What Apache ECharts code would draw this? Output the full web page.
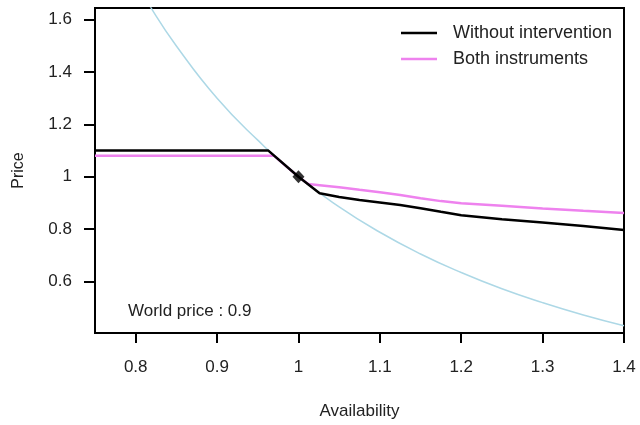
<!DOCTYPE html>
<html>
<head>
<meta charset="utf-8">
<script src="https://cdn.jsdelivr.net/npm/echarts@6/dist/echarts.min.js"></script>
<style>html,body{margin:0;padding:0;background:#fff}#c{width:640px;height:425px}</style>
</head>
<body>
<div id="c"></div>
<script>
// Data
var xTicks = [0.8, 0.9, 1.0, 1.1, 1.2, 1.3, 1.4];
var yTicks = [0.6, 0.8, 1.0, 1.2, 1.4, 1.6];

var demandX = [0.80, 0.82, 0.85, 0.90, 0.95, 1.00, 1.05, 1.10, 1.15, 1.20, 1.25, 1.30, 1.35, 1.40];
var demandY = [1.75, 1.64, 1.50, 1.30, 1.14, 1.00, 0.885, 0.788, 0.705, 0.634, 0.572, 0.519, 0.472, 0.431];

var noInterX = [0.75, 0.963, 1.0, 1.026, 1.05, 1.075, 1.10, 1.125, 1.15, 1.175, 1.20, 1.25, 1.30, 1.35, 1.40];
var noInterY = [1.10, 1.10, 1.00, 0.937, 0.923, 0.911, 0.902, 0.892, 0.880, 0.866, 0.853, 0.838, 0.825, 0.812, 0.797];

var bothX = [0.75, 0.970, 1.0, 1.012, 1.026, 1.05, 1.075, 1.10, 1.125, 1.15, 1.175, 1.20, 1.25, 1.30, 1.35, 1.40];
var bothY = [1.08, 1.08, 1.00, 0.972, 0.968, 0.960, 0.950, 0.941, 0.930, 0.918, 0.907, 0.899, 0.889, 0.879, 0.870, 0.862];

var pointX = [1.0];
var pointY = [1.0];

var seriesNames = ['Without intervention', 'Both instruments'];
var annotation = 'World price : 0.9';

function zip(xs, ys) { return xs.map(function (x, i) { return [x, ys[i]]; }); }

var FONT = 'Liberation Sans';
var chart = echarts.init(document.getElementById('c'), null, {renderer: 'canvas'});
chart.setOption({
  animation: false,
  backgroundColor: '#fff',
  textStyle: {fontFamily: FONT},
  grid: {left: 95, right: 16, top: 8, bottom: 89, show: true, borderColor: '#000', borderWidth: 2, backgroundColor: 'transparent'},
  title: {
    text: annotation, left: 128, top: 303, padding: 0,
    textStyle: {fontFamily: FONT, fontSize: 17, fontWeight: 'normal', color: '#222'}
  },
  legend: {
    orient: 'vertical', left: 401, top: 24, padding: 0,
    data: seriesNames,
    icon: 'rect',
    itemWidth: 36, itemHeight: 2.5, itemGap: 8,
    textStyle: {fontFamily: FONT, fontSize: 18, color: '#222', lineHeight: 14, padding: [0, 0, 0, 11]}
  },
  xAxis: {
    type: 'value', min: 0.75, max: 1.4,
    name: 'Availability', nameLocation: 'middle', nameGap: 70,
    nameTextStyle: {fontFamily: FONT, fontSize: 17, color: '#222'},
    splitLine: {show: false},
    axisLine: {show: true, lineStyle: {color: '#000', width: 2}},
    axisTick: {show: true, length: 10, lineStyle: {color: '#000', width: 2}, customValues: xTicks},
    axisLabel: {fontFamily: FONT, fontSize: 17, color: '#222', margin: 26, customValues: xTicks,
      formatter: function (v) { return String(+v.toFixed(2)); }}
  },
  yAxis: {
    type: 'value', min: 0.403, max: 1.645,
    name: 'Price', nameLocation: 'middle', nameGap: 68, nameRotate: 90,
    nameTextStyle: {fontFamily: FONT, fontSize: 16, color: '#222'},
    splitLine: {show: false},
    axisLine: {show: true, lineStyle: {color: '#000', width: 2}},
    axisTick: {show: true, length: 11, lineStyle: {color: '#000', width: 2}, customValues: yTicks},
    axisLabel: {fontFamily: FONT, fontSize: 17, color: '#222', margin: 23, customValues: yTicks,
      formatter: function (v) { return String(+v.toFixed(2)); }}
  },
  series: [
    {
      name: 'Demand', type: 'line', data: zip(demandX, demandY), smooth: true,
      symbol: 'none', clip: true,
      lineStyle: {color: '#ADD8E6', width: 1.5}, z: 1
    },
    {
      name: seriesNames[1], type: 'line', data: zip(bothX, bothY), smooth: false,
      symbol: 'none', clip: true, color: '#EE82EE',
      lineStyle: {color: '#EE82EE', width: 2.5}, z: 2
    },
    {
      name: seriesNames[0], type: 'line', data: zip(noInterX, noInterY), smooth: false,
      symbol: 'none', clip: true, color: '#000',
      lineStyle: {color: '#000', width: 2.5}, z: 3
    },
    {
      name: 'Point', type: 'scatter', data: zip(pointX, pointY),
      symbol: 'diamond', symbolSize: [12, 13],
      itemStyle: {color: '#000'}, z: 4
    }
  ]
});
</script>
</body>
</html>
